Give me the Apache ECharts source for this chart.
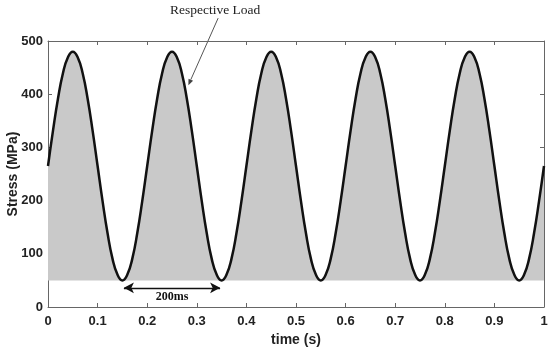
<!DOCTYPE html>
<html>
<head>
<meta charset="utf-8">
<script src="https://cdn.jsdelivr.net/npm/echarts@6/dist/echarts.min.js"></script>
<style>html,body{margin:0;padding:0;background:#fff}#c{width:550px;height:350px}</style>
</head>
<body>
<div id="c"></div>
<script>
// time samples (s), step 0.01
const times = [];
for (let i = 0; i <= 100; i++) times.push(+(i * 0.01).toFixed(2));
// stress values (MPa), one per time sample
const stress = [
  265,331,391,439,469,480,469,439,391,331,265,199,139,91,61,50,61,91,139,199,
  265,331,391,439,469,480,469,439,391,331,265,199,139,91,61,50,61,91,139,199,
  265,331,391,439,469,480,469,439,391,331,265,199,139,91,61,50,61,91,139,199,
  265,331,391,439,469,480,469,439,391,331,265,199,139,91,61,50,61,91,139,199,
  265,331,391,439,469,480,469,439,391,331,265,199,139,91,61,50,61,91,139,199,
  265
];
const baseStress = 50;
const periodArrow = [[0.153, 36], [0.347, 36]];
const periodLabel = '200ms';
const loadArrow = [[0.343, 543], [0.283, 417]];
const loadLabel = 'Respective Load';

const data = times.map((t, i) => [t, stress[i]]);
const chart = echarts.init(document.getElementById('c'));
const lab = {fontFamily: 'Liberation Sans, Arial, sans-serif', fontWeight: 'bold', fontSize: 13, color: '#222'};
const frame = {show: true, onZero: false, lineStyle: {color: '#666', width: 1}};
const tick = {show: true, inside: true, length: 4, lineStyle: {color: '#666'}};
chart.setOption({
  animation: false,
  grid: {left: 48, right: 6, top: 41, bottom: 43, containLabel: false, outerBoundsMode: 'none'},
  xAxis: [{
    type: 'value', min: 0, max: 1, interval: 0.1,
    axisLine: frame, axisTick: tick, splitLine: {show: false},
    axisLabel: Object.assign({margin: 8, formatter: v => String(+v.toFixed(1))}, lab),
    name: 'time (s)', nameLocation: 'middle', nameGap: 26, nameMoveOverlap: false,
    nameTextStyle: Object.assign({}, lab, {fontSize: 14})
  }, {
    type: 'value', min: 0, max: 1, interval: 0.1, position: 'top',
    axisLine: frame, axisTick: tick, axisLabel: {show: false}, splitLine: {show: false}
  }],
  yAxis: [{
    type: 'value', min: 0, max: 500, interval: 100,
    axisLine: frame, axisTick: tick, splitLine: {show: false},
    axisLabel: Object.assign({margin: 5}, lab),
    name: 'Stress (MPa)', nameLocation: 'middle', nameGap: 28, nameMoveOverlap: false,
    nameTextStyle: Object.assign({}, lab, {fontSize: 14})
  }, {
    type: 'value', min: 0, max: 500, interval: 100, position: 'right',
    axisLine: frame, axisTick: tick, axisLabel: {show: false}, splitLine: {show: false}
  }],
  series: [{
    type: 'line', data: data, smooth: true, showSymbol: false, symbol: 'none', clip: false,
    lineStyle: {color: '#111', width: 2.5},
    areaStyle: {color: '#c9c9c9', opacity: 1, origin: baseStress},
    markLine: {
      silent: true, symbol: ['arrow', 'arrow'], symbolSize: [8, 10],
      lineStyle: {color: '#111', width: 1.3, type: 'solid'},
      label: {show: true, position: 'insideMiddleBottom', distance: 3, formatter: periodLabel,
        fontFamily: 'Liberation Serif, Times New Roman, serif', fontWeight: 'bold', fontSize: 12, color: '#111'},
      data: [[{coord: periodArrow[0]}, {coord: periodArrow[1]}]]
    }
  }]
});

// annotation arrow placed through the axes' own scales
const p0 = chart.convertToPixel({xAxisIndex: 0, yAxisIndex: 0}, loadArrow[0]);
const p1 = chart.convertToPixel({xAxisIndex: 0, yAxisIndex: 0}, loadArrow[1]);
const ang = Math.atan2(p1[1] - p0[1], p1[0] - p0[0]);
const hl = 6, hw = 2.5;
const bx = p1[0] - hl * Math.cos(ang), by = p1[1] - hl * Math.sin(ang);
const head = [
  [p1[0], p1[1]],
  [bx + hw * Math.sin(ang), by - hw * Math.cos(ang)],
  [bx - hw * Math.sin(ang), by + hw * Math.cos(ang)]
];
chart.setOption({
  graphic: [
    {type: 'text', left: 170, top: 3,
     style: {text: loadLabel, font: '13.5px "Liberation Serif", "Times New Roman", serif', fill: '#222'}},
    {type: 'line', shape: {x1: p0[0], y1: p0[1], x2: bx, y2: by}, style: {stroke: '#555', lineWidth: 1}},
    {type: 'polygon', shape: {points: head}, style: {fill: '#444'}}
  ]
});
</script>
</body>
</html>
